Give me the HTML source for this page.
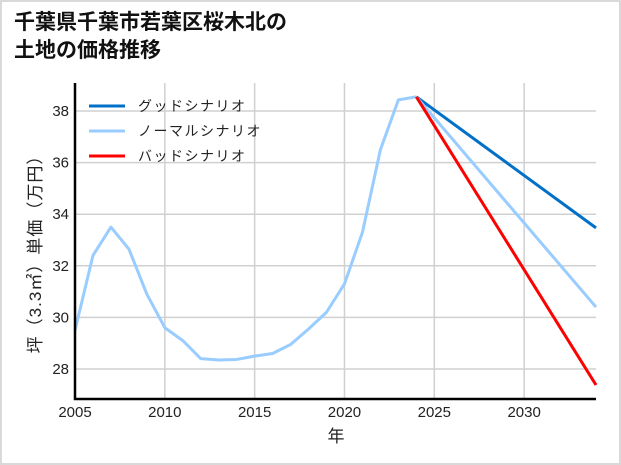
<!DOCTYPE html>
<html><head><meta charset="utf-8"><style>
html,body{margin:0;padding:0;background:#fff}
#wrap{position:relative;width:617px;height:461px;border:2px solid #d9d9d9;background:#fff;overflow:hidden}
h1{position:absolute;left:12px;top:7px;margin:0;font:bold 21px/28px "Liberation Sans","Noto Sans CJK JP",sans-serif;color:#111}
svg{position:absolute;left:-2px;top:-2px}
text{font-family:"Liberation Sans","Noto Sans CJK JP",sans-serif;fill:#222}
</style></head><body>
<div id="wrap">
<h1>千葉県千葉市若葉区桜木北の<br>土地の価格推移</h1>
<svg id="chart" width="621" height="465"></svg>
</div>
<script>
const years=[2005,2006,2007,2008,2009,2010,2011,2012,2013,2014,2015,2016,2017,2018,2019,2020,2021,2022,2023,2024];
const history=[29.5,32.4,33.5,32.65,30.9,29.6,29.1,28.4,28.35,28.37,28.5,28.6,28.95,29.55,30.2,31.3,33.3,36.5,38.43,38.55];
const futureYears=[2024,2034];
const goodVals=[38.55,33.47];
const normalVals=[38.55,30.4];
const badVals=[38.55,27.38];
const xTicks=[2005,2010,2015,2020,2025,2030];
const yTicks=[28,30,32,34,36,38];
const legendLabels=["グッドシナリオ","ノーマルシナリオ","バッドシナリオ"];
const colors=["#0070c8","#99ccff","#ff0000"];

const L=75,R=596,T=83,B=399;
const x=v=>L+(v-2005)*(R-L)/29;
const y=v=>111+(38-v)*25.8;
const svg=document.getElementById('chart');
const NS='http://www.w3.org/2000/svg';
function mk(t,a){const e=document.createElementNS(NS,t);for(const k in a)e.setAttribute(k,a[k]);svg.appendChild(e);return e;}
xTicks.forEach(t=>{const g=mk('line',{x1:x(t),x2:x(t),y1:T,y2:B,stroke:'#d0d0d0','stroke-width':1.5});


const lb=mk('text',{x:x(t),y:B+18,'text-anchor':'middle','font-size':15});lb.textContent=t;

});
yTicks.forEach(t=>{const g=mk('line',{x1:L,x2:R,y1:y(t),y2:y(t),stroke:'#d0d0d0','stroke-width':1.5});


const lb=mk('text',{x:L-6,y:y(t)+5,'text-anchor':'end','font-size':15});lb.textContent=t;

});
function line(xs,vs,c,name){const p=mk('polyline',{points:xs.map((t,i)=>x(t)+','+y(vs[i])).join(' '),fill:'none',stroke:c,'stroke-width':3,'stroke-linejoin':'round'});

}
line(years,history,colors[1],'history-line');
line(futureYears,goodVals,colors[0],'good-scenario-line');
line(futureYears,normalVals,colors[1],'normal-scenario-line');
line(futureYears,badVals,colors[2],'bad-scenario-line');
const ax=mk('path',{d:`M${L},${T} V${B} H${R}`,fill:'none',stroke:'#000','stroke-width':2.5});


legendLabels.forEach((s,i)=>{const yy=106+i*25;
const l=mk('line',{x1:89,x2:125,y1:yy,y2:yy,stroke:colors[i],'stroke-width':3});


const t=mk('text',{x:138,y:yy+5,'font-size':14,'letter-spacing':'1.5'});t.textContent=s;

});
const xt=mk('text',{x:336,y:442,'text-anchor':'middle','font-size':17});xt.textContent='年';


const yt=mk('text',{x:0,y:0,'text-anchor':'middle','font-size':17,'letter-spacing':'1',transform:'translate(41,250) rotate(-90)'});yt.textContent='坪（3.3㎡）単価（万円）';


</script>
</body></html>
